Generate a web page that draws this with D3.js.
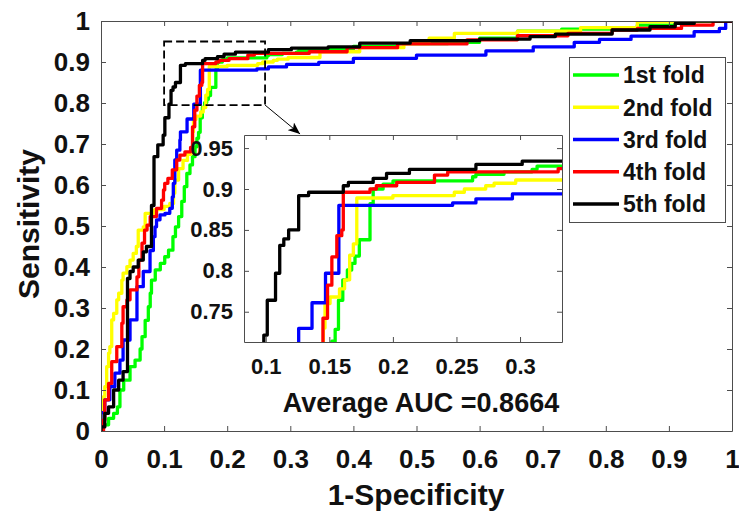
<!DOCTYPE html>
<html>
<head>
<meta charset="utf-8">
<title>ROC folds</title>
<script src="https://cdn.jsdelivr.net/npm/d3@7"></script>
<style>
  body { margin: 0; background: #fff; }
  svg { display: block; }
</style>
</head>
<body>
<script>
// ---- data (fpr, tpr) ----
const foldNames = ["1st fold", "2nd fold", "3rd fold", "4th fold", "5th fold"];
const foldColors = ["#00ff00", "#ffff00", "#0000ff", "#ff0000", "#000000"];

const fold1 = [[0,0],[0.003,0.015],[0.012,0.031],[0.020,0.043],[0.026,0.059],[0.030,0.100],[0.036,0.124],[0.046,0.157],[0.054,0.173],[0.062,0.200],[0.065,0.230],[0.070,0.270],[0.075,0.303],[0.078,0.336],[0.080,0.368],[0.086,0.393],[0.094,0.409],[0.101,0.425],[0.107,0.441],[0.114,0.474],[0.118,0.498],[0.123,0.523],[0.128,0.560],[0.132,0.596],[0.136,0.628],[0.141,0.649],[0.145,0.669],[0.149,0.693],[0.152,0.714],[0.1546,0.7285],[0.1572,0.764],[0.1606,0.789],[0.1642,0.801],[0.1676,0.809],[0.1702,0.818],[0.1736,0.838],[0.182,0.882],[0.1845,0.900],[0.1923,0.906],[0.2001,0.910],[0.2627,0.915],[0.2653,0.918],[0.2874,0.921],[0.3095,0.924],[0.3134,0.928],[0.34,0.931],[0.40,0.938],[0.47,0.945],[0.55,0.948],[0.60,0.958],[0.66,0.975],[0.73,0.980],[0.85,0.990],[0.91,0.996],[0.94,1],[1,1]];

const fold2 = [[0,0],[0,0.030],[0.001,0.059],[0.004,0.084],[0.006,0.108],[0.009,0.157],[0.012,0.190],[0.014,0.206],[0.017,0.271],[0.020,0.287],[0.025,0.320],[0.028,0.336],[0.033,0.368],[0.035,0.385],[0.041,0.401],[0.046,0.417],[0.051,0.433],[0.056,0.450],[0.059,0.490],[0.067,0.498],[0.070,0.531],[0.085,0.540],[0.100,0.548],[0.109,0.555],[0.115,0.580],[0.117,0.612],[0.123,0.640],[0.130,0.660],[0.137,0.675],[0.142,0.690],[0.1453,0.730],[0.1466,0.760],[0.1506,0.768],[0.158,0.778],[0.162,0.789],[0.166,0.819],[0.1689,0.833],[0.1716,0.889],[0.20,0.892],[0.2483,0.896],[0.2562,0.900],[0.273,0.904],[0.2796,0.907],[0.2966,0.911],[0.347,0.925],[0.41,0.935],[0.48,0.945],[0.52,0.958],[0.56,0.970],[0.66,0.975],[0.76,0.984],[0.85,0.998],[0.94,1],[1,1]];

const fold3 = [[0,0],[0,0.045],[0.006,0.076],[0.014,0.108],[0.022,0.141],[0.030,0.173],[0.035,0.222],[0.046,0.271],[0.057,0.352],[0.067,0.389],[0.0777,0.440],[0.083,0.474],[0.0856,0.498],[0.088,0.515],[0.0935,0.527],[0.1014,0.531],[0.109,0.543],[0.113,0.571],[0.1146,0.604],[0.117,0.661],[0.120,0.685],[0.125,0.710],[0.1259,0.7297],[0.1364,0.761],[0.147,0.797],[0.1575,0.880],[0.247,0.883],[0.2653,0.888],[0.294,0.894],[0.345,0.899],[0.40,0.909],[0.50,0.917],[0.61,0.927],[0.685,0.937],[0.75,0.948],[0.79,0.955],[0.84,0.963],[0.94,0.974],[0.98,0.982],[0.99,1],[1,1]];

const fold4 = [[0,0],[0.004,0.027],[0.006,0.076],[0.012,0.116],[0.017,0.169],[0.025,0.206],[0.033,0.263],[0.035,0.303],[0.041,0.320],[0.046,0.344],[0.057,0.376],[0.060,0.417],[0.065,0.458],[0.069,0.490],[0.073,0.502],[0.078,0.523],[0.088,0.543],[0.096,0.563],[0.099,0.588],[0.101,0.604],[0.106,0.616],[0.113,0.637],[0.120,0.661],[0.125,0.673],[0.133,0.681],[0.142,0.692],[0.145,0.742],[0.1486,0.7825],[0.152,0.817],[0.1559,0.843],[0.1598,0.850],[0.161,0.896],[0.182,0.900],[0.187,0.904],[0.203,0.908],[0.2327,0.917],[0.2431,0.921],[0.33,0.925],[0.39,0.935],[0.47,0.944],[0.58,0.954],[0.66,0.964],[0.74,0.970],[0.81,0.978],[0.85,0.982],[0.92,0.990],[0.97,1],[1,1]];

const fold5 = [[0,0],[0,0.010],[0.006,0.043],[0.012,0.059],[0.020,0.100],[0.028,0.124],[0.035,0.145],[0.042,0.372],[0.046,0.389],[0.051,0.400],[0.059,0.417],[0.067,0.437],[0.072,0.450],[0.080,0.550],[0.084,0.669],[0.090,0.698],[0.0985,0.7215],[0.1012,0.764],[0.1077,0.797],[0.111,0.831],[0.1142,0.839],[0.118,0.850],[0.1259,0.892],[0.1337,0.896],[0.161,0.904],[0.165,0.908],[0.1845,0.913],[0.195,0.919],[0.213,0.924],[0.2653,0.930],[0.3017,0.934],[0.36,0.937],[0.41,0.946],[0.49,0.952],[0.60,0.956],[0.68,0.962],[0.72,0.968],[0.81,0.978],[0.87,0.986],[0.91,0.994],[0.94,1],[1,1]];

const folds = [fold1, fold2, fold3, fold4, fold5];

// ticks
const xTicks = [0,0.1,0.2,0.3,0.4,0.5,0.6,0.7,0.8,0.9,1];
const xTickLabels = ["0","0.1","0.2","0.3","0.4","0.5","0.6","0.7","0.8","0.9","1"];
const yTicks = xTicks;
const yTickLabels = xTickLabels;
const insetXTicks = [0.1,0.15,0.2,0.25,0.3];
const insetXLabels = ["0.1","0.15","0.2","0.25","0.3"];
const insetYTicks = [0.75,0.8,0.85,0.9,0.95];
const insetYLabels = ["0.75","0.8","0.85","0.9","0.95"];
const zoomBox = {x0: 0.1, x1: 0.26, y0: 0.795, y1: 0.95};
const aucText = "Average AUC =0.8664";

// ---- setup ----
const w = 739, h = 511;
const font = "'Liberation Sans', Arial, Helvetica, sans-serif";
const axisColor = "#4d4d4d";
const svg = d3.select("body").append("svg").attr("width", w).attr("height", h)
  .style("background", "#fff");

const x = d3.scaleLinear().domain([0,1]).range([101,732]);
const y = d3.scaleLinear().domain([0,1]).range([431,21]);
const xi = d3.scaleLinear().domain([0.0829,0.333]).range([244,562]);
const yi = d3.scaleLinear().domain([0.713,0.966]).range([342,135]);

// draws a box with ticks pointing inward on all four sides
function frame(xs, ys, xt, xl, yt, yl, fs, padX, padY){
  const [x0, x1] = xs.range();
  const [y0, y1] = ys.range();
  const g = svg.append("g");
  g.append("g").attr("transform", `translate(0,${y0})`)
    .call(d3.axisBottom(xs).tickValues(xt).tickFormat((d,i) => xl[i]).tickSizeInner(-5).tickSizeOuter(0).tickPadding(padX));
  g.append("g").attr("transform", `translate(0,${y1})`)
    .call(d3.axisTop(xs).tickValues(xt).tickFormat("").tickSizeInner(-5).tickSizeOuter(0));
  g.append("g").attr("transform", `translate(${x0},0)`)
    .call(d3.axisLeft(ys).tickValues(yt).tickFormat((d,i) => yl[i]).tickSizeInner(-5).tickSizeOuter(0).tickPadding(padY));
  g.append("g").attr("transform", `translate(${x1},0)`)
    .call(d3.axisRight(ys).tickValues(yt).tickFormat("").tickSizeInner(-5).tickSizeOuter(0));
  g.selectAll("g").attr("font-family", font).attr("font-size", fs).attr("font-weight", "bold");
  g.selectAll("path.domain").attr("stroke", axisColor);
  g.selectAll(".tick line").attr("stroke", axisColor);
  g.selectAll("text").attr("fill", "#111");
  return g;
}

function curves(xs, ys, clipId){
  const [x0, x1] = xs.range();
  const [y0, y1] = ys.range();
  svg.append("clipPath").attr("id", clipId).append("rect")
    .attr("x", x0).attr("y", y1).attr("width", x1 - x0).attr("height", y0 - y1);
  const line = d3.line().x(d => xs(d[0])).y(d => ys(d[1])).curve(d3.curveStepAfter);
  svg.append("g").attr("clip-path", `url(#${clipId})`)
    .selectAll("path").data(folds).join("path")
    .attr("d", line)
    .attr("fill", "none")
    .attr("stroke", (d,i) => foldColors[i])
    .attr("stroke-width", 3.3)
    .attr("stroke-linejoin", "round");
}

// main plot
svg.append("rect").attr("x", 101).attr("y", 21).attr("width", 631).attr("height", 410).attr("fill", "#fff");
curves(x, y, "clipMain");
frame(x, y, xTicks, xTickLabels, yTicks, yTickLabels, 26, 19, 11);

// dashed zoom box
svg.append("rect")
  .attr("x", x(zoomBox.x0)).attr("y", y(zoomBox.y1))
  .attr("width", x(zoomBox.x1) - x(zoomBox.x0))
  .attr("height", y(zoomBox.y0) - y(zoomBox.y1))
  .attr("fill", "none").attr("stroke", "#000").attr("stroke-width", 1.8)
  .attr("stroke-dasharray", "8,4");

// arrow to the inset
svg.append("defs").append("marker")
  .attr("id", "arrowHead").attr("viewBox", "0 0 12 10")
  .attr("refX", 12).attr("refY", 5)
  .attr("markerWidth", 13).attr("markerHeight", 10)
  .attr("markerUnits", "userSpaceOnUse").attr("orient", "auto")
  .append("path").attr("d", "M0,0 L12,5 L0,10 L3,5 Z").attr("fill", "#000");
svg.append("line")
  .attr("x1", x(zoomBox.x1)).attr("y1", y(zoomBox.y0))
  .attr("x2", xi(0.127)).attr("y2", yi.range()[1] - 1)
  .attr("stroke", "#000").attr("stroke-width", 1)
  .attr("marker-end", "url(#arrowHead)");

// inset
svg.append("rect").attr("x", 244).attr("y", 135).attr("width", 318).attr("height", 207).attr("fill", "#fff");
curves(xi, yi, "clipInset");
frame(xi, yi, insetXTicks, insetXLabels, insetYTicks, insetYLabels, 22, 16, 11);

svg.append("text")
  .attr("x", 421).attr("y", 412)
  .attr("text-anchor", "middle")
  .attr("font-family", font).attr("font-size", 27).attr("font-weight", "bold")
  .attr("fill", "#111")
  .text(aucText);

// axis titles
svg.append("text")
  .attr("x", 416).attr("y", 505)
  .attr("text-anchor", "middle")
  .attr("font-family", font).attr("font-size", 30).attr("font-weight", "bold")
  .attr("fill", "#111")
  .text("1-Specificity");
svg.append("text")
  .attr("transform", "translate(39,224) rotate(-90)")
  .attr("text-anchor", "middle")
  .attr("font-family", font).attr("font-size", 30).attr("font-weight", "bold")
  .attr("fill", "#111")
  .text("Sensitivity");

// legend
const legend = svg.append("g");
legend.append("rect")
  .attr("x", 569.5).attr("y", 57.5).attr("width", 156).attr("height", 165)
  .attr("fill", "#fff").attr("stroke", axisColor).attr("stroke-width", 1);
const legY = d3.scaleLinear().domain([0, 4]).range([75, 204]);
const items = legend.selectAll("g.item").data(foldNames).join("g").attr("class", "item")
  .attr("transform", (d,i) => `translate(0,${legY(i)})`);
items.append("line").attr("x1", 573).attr("x2", 619).attr("y1", 0).attr("y2", 0)
  .attr("stroke", (d,i) => foldColors[i]).attr("stroke-width", 3.3);
items.append("text").attr("x", 623).attr("y", 0).attr("dy", "0.36em")
  .attr("font-family", font).attr("font-size", 23).attr("font-weight", "bold")
  .attr("fill", "#111")
  .text(d => d);
</script>
</body>
</html>
